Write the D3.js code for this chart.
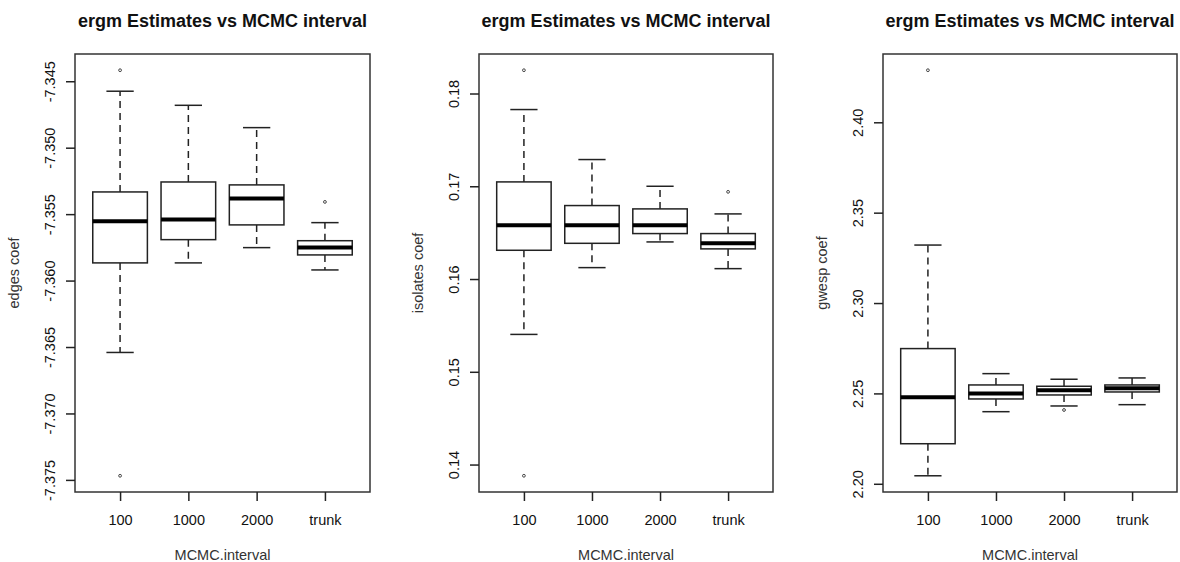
<!DOCTYPE html>
<html>
<head>
<meta charset="utf-8">
<script src="https://cdn.jsdelivr.net/npm/d3@7"></script>
<style>
  body { margin: 0; background: #fff; }
  svg text { font-family: "Liberation Sans", Arial, sans-serif; }
</style>
</head>
<body>
<script>
// data
// each stats row: [lower whisker, Q1, median, Q3, upper whisker]
var categories = ["100", "1000", "2000", "trunk"];

var edgesStats = [
  [-7.36541, -7.35867, -7.35554, -7.35333, -7.34575],
  [-7.35867, -7.35692, -7.35541, -7.35258, -7.34681],
  [-7.35752, -7.35581, -7.35383, -7.35280, -7.34849],
  [-7.35920, -7.35807, -7.35752, -7.35700, -7.35564]
];
var edgesOutliers = [[-7.34417, -7.37469], [], [], [-7.35408]];
var edgesTicks = [-7.375, -7.370, -7.365, -7.360, -7.355, -7.350, -7.345];
var edgesTickLabels = ["-7.375", "-7.370", "-7.365", "-7.360", "-7.355", "-7.350", "-7.345"];

var isolatesStats = [
  [0.15403, 0.16310, 0.16579, 0.17047, 0.17827],
  [0.16123, 0.16385, 0.16579, 0.16792, 0.17288],
  [0.16400, 0.16490, 0.16579, 0.16756, 0.17000],
  [0.16112, 0.16325, 0.16385, 0.16490, 0.16702]
];
var isolatesOutliers = [[0.18251, 0.13879], [], [], [0.16940]];
var isolatesTicks = [0.14, 0.15, 0.16, 0.17, 0.18];
var isolatesTickLabels = ["0.14", "0.15", "0.16", "0.17", "0.18"];

var gwespStats = [
  [2.20443, 2.22216, 2.24787, 2.27480, 2.33208],
  [2.23989, 2.24693, 2.25000, 2.25468, 2.26094],
  [2.24305, 2.24914, 2.25175, 2.25396, 2.25784],
  [2.24377, 2.25080, 2.25285, 2.25468, 2.25856]
];
var gwespOutliers = [[2.42881], [], [2.24083], []];
var gwespTicks = [2.20, 2.25, 2.30, 2.35, 2.40];
var gwespTickLabels = ["2.20", "2.25", "2.30", "2.35", "2.40"];

var title = "ergm Estimates vs MCMC interval";
var xTitle = "MCMC.interval";

// setup svg
var svgWidth = 1180, svgHeight = 562;
var top_ = 54, bottom_ = 492;
var tickLen = 9;
var ink = "#222";

var svg = d3.select("body").append("svg")
  .attr("width", svgWidth)
  .attr("height", svgHeight);

var panels = [
  {left: 75,  right: 370,  stats: edgesStats,    outl: edgesOutliers,    ticks: edgesTicks,    labels: edgesTickLabels,    ylab: "edges coef"},
  {left: 479, right: 773,  stats: isolatesStats, outl: isolatesOutliers, ticks: isolatesTicks, labels: isolatesTickLabels, ylab: "isolates coef"},
  {left: 883, right: 1177, stats: gwespStats,    outl: gwespOutliers,    ticks: gwespTicks,    labels: gwespTickLabels,    ylab: "gwesp coef"}
];

panels.forEach(function(p) {
  var g = svg.append("g");

  // y domain like R: data range + 4%
  var all = [];
  p.stats.forEach(function(s) { all = all.concat(s); });
  p.outl.forEach(function(o) { all = all.concat(o); });
  var ext = d3.extent(all);
  var pad = (ext[1] - ext[0]) * 0.04;
  var y = d3.scaleLinear().domain([ext[0] - pad, ext[1] + pad]).range([bottom_, top_]);

  // x positions 1..4, xlim 0.5..4.5 plus 4%
  var x = d3.scaleLinear().domain([0.34, 4.66]).range([p.left, p.right]);
  var bw = 0.8 * (x(2) - x(1));

  // boxes
  p.stats.forEach(function(s, i) {
    var cx = x(i + 1);
    // whiskers (dashed)
    g.append("line").attr("x1", cx).attr("x2", cx).attr("y1", y(s[3])).attr("y2", y(s[4]))
      .attr("stroke", ink).attr("stroke-width", 1.5).attr("stroke-dasharray", "7,5");
    g.append("line").attr("x1", cx).attr("x2", cx).attr("y1", y(s[1])).attr("y2", y(s[0]))
      .attr("stroke", ink).attr("stroke-width", 1.5).attr("stroke-dasharray", "7,5");
    // caps
    [s[0], s[4]].forEach(function(v) {
      g.append("line").attr("x1", cx - bw / 4).attr("x2", cx + bw / 4)
        .attr("y1", y(v)).attr("y2", y(v))
        .attr("stroke", ink).attr("stroke-width", 1.5);
    });
    // box
    g.append("rect").attr("x", cx - bw / 2).attr("y", y(s[3]))
      .attr("width", bw).attr("height", y(s[1]) - y(s[3]))
      .attr("fill", "#fff").attr("stroke", ink).attr("stroke-width", 1.5);
    // median
    g.append("line").attr("x1", cx - bw / 2).attr("x2", cx + bw / 2)
      .attr("y1", y(s[2])).attr("y2", y(s[2]))
      .attr("stroke", "#000").attr("stroke-width", 4);
    // outliers
    p.outl[i].forEach(function(v) {
      g.append("circle").attr("cx", cx).attr("cy", y(v)).attr("r", 1.4)
        .attr("fill", "none").attr("stroke", "#444").attr("stroke-width", 1);
    });
  });

  // frame
  g.append("rect").attr("x", p.left).attr("y", top_)
    .attr("width", p.right - p.left).attr("height", bottom_ - top_)
    .attr("fill", "none").attr("stroke", "#333").attr("stroke-width", 1.5);

  // y axis
  var yAxis = d3.axisLeft(y).tickValues(p.ticks)
    .tickFormat(function(d, i) { return p.labels[i]; })
    .tickSize(tickLen).tickPadding(7);
  var ya = g.append("g").attr("transform", "translate(" + p.left + ",0)").call(yAxis);
  ya.select(".domain").remove();
  ya.selectAll(".tick line").attr("stroke", ink).attr("stroke-width", 1.5);
  ya.selectAll(".tick text")
    .attr("font-size", "14.5px").attr("fill", "#111")
    .attr("x", null).attr("dy", null)
    .attr("text-anchor", "middle")
    .attr("transform", "translate(-20,0) rotate(-90)");

  // x axis
  var xAxis = d3.axisBottom(x).tickValues([1, 2, 3, 4])
    .tickFormat(function(d) { return categories[d - 1]; })
    .tickSize(tickLen).tickPadding(14);
  var xa = g.append("g").attr("transform", "translate(0," + bottom_ + ")").call(xAxis);
  xa.select(".domain").remove();
  xa.selectAll(".tick line").attr("stroke", ink).attr("stroke-width", 1.5);
  xa.selectAll(".tick text").attr("font-size", "14.5px").attr("fill", "#111");

  // titles
  var mid = (p.left + p.right) / 2;
  g.append("text").attr("x", mid).attr("y", 27).attr("text-anchor", "middle")
    .attr("font-size", "18px").attr("font-weight", "bold").attr("fill", "#111").text(title);
  g.append("text").attr("x", mid).attr("y", 560).attr("text-anchor", "middle")
    .attr("font-size", "14.5px").attr("fill", "#333").text(xTitle);
  g.append("text").attr("text-anchor", "middle")
    .attr("transform", "translate(" + (p.left - 56) + "," + ((top_ + bottom_) / 2) + ") rotate(-90)")
    .attr("font-size", "14.5px").attr("fill", "#333").text(p.ylab);
});
</script>
</body>
</html>
